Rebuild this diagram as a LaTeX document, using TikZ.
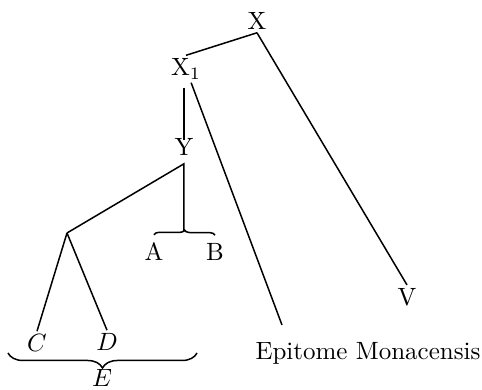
\documentclass[tikz,border=0pt]{standalone}
\usetikzlibrary{decorations.pathreplacing}
\begin{document}
\begin{tikzpicture}[
            x=0.4pt, y=-0.4pt,
            semithick,
            ms/.style={
                inner sep=1pt
            },
            curly/.style={
                decorate,
                decoration={brace, amplitude=#1}
            }
        ]

            \useasboundingbox (0, 0) rectangle (482, 390);

            \node[ms] (x) at (257, 21) {X};
            \node[ms] (x1) at (186, 69) {X\(_1\)};
            \node[ms, inner sep=3pt] (y) at (184, 147) {Y};

            \node[ms] (a) at (154, 252) {A};
            \node[ms] (b) at (215, 252) {B};

            \node[ms] (c) at (37, 343) {\(C\)};
            \node[ms] (d) at (107, 342) {\(D\)};
            \node[ms] (e) at (102, 378) {\(E\)};

            \node[ms] (v) at (407, 297) {V};
            \node[ms] (epi) at (368, 353) {Epitome Monacensis};

            \coordinate (fork) at (67, 233);
            \coordinate (ab) at (184, 232);
            \coordinate (epitop) at (282, 325);
            \coordinate (eleft) at (8, 353);
            \coordinate (eright) at (197, 353);

            \draw (x.south) -- (x1.north);
            \draw (x.south) -- (v.north);

            \draw ([yshift=-2pt]y |- x1.south) -- ([yshift=-4pt]y.north);
            \draw (x1) -- (epitop);

            \draw (fork) -- (y.south) -- (ab);
            \draw[curly=2pt] ([yshift=2pt]a.north) -- ([yshift=2pt]b.north);

            \draw (fork) -- (c.north);
            \draw (fork) -- (d.north);
            \draw[curly=6pt] (eright) -- (eleft);

        \end{tikzpicture}
\end{document}
